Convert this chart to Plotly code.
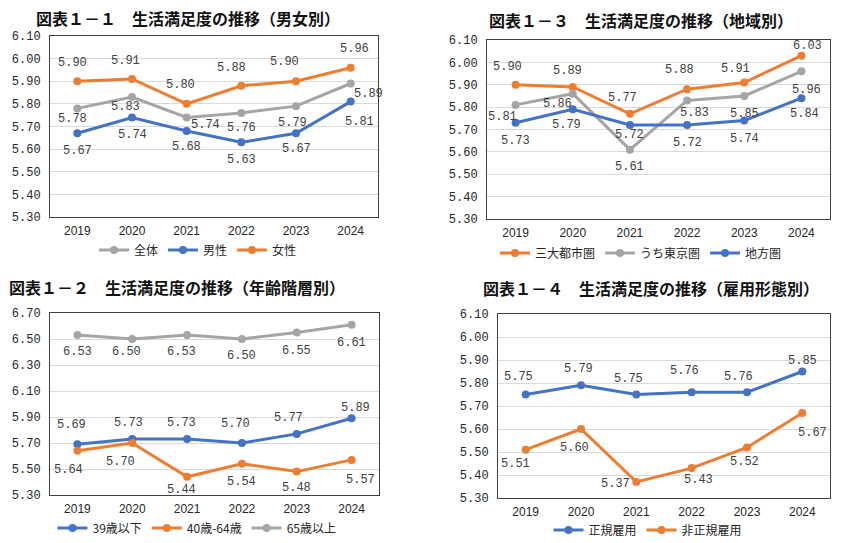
import plotly.graph_objects as go

years = ["2019", "2020", "2021", "2022", "2023", "2024"]

# Panel 1-1 (gender)
p1_names = ["全体", "男性", "女性"]
p1_all = [5.78, 5.83, 5.74, 5.76, 5.79, 5.89]
p1_male = [5.67, 5.74, 5.68, 5.63, 5.67, 5.81]
p1_female = [5.90, 5.91, 5.80, 5.88, 5.90, 5.96]

# Panel 1-3 (region)
p2_names = ["三大都市圏", "うち東京圏", "地方圏"]
p2_metro = [5.90, 5.89, 5.77, 5.88, 5.91, 6.03]
p2_tokyo = [5.81, 5.86, 5.61, 5.83, 5.85, 5.96]
p2_local = [5.73, 5.79, 5.72, 5.72, 5.74, 5.84]

# Panel 1-2 (age)
p3_names = ["39歳以下", "40歳-64歳", "65歳以上"]
p3_u39 = [5.69, 5.73, 5.73, 5.70, 5.77, 5.89]
p3_40_64 = [5.64, 5.70, 5.44, 5.54, 5.48, 5.57]
p3_65 = [6.53, 6.50, 6.53, 6.50, 6.55, 6.61]

# Panel 1-4 (employment)
p4_names = ["正規雇用", "非正規雇用"]
p4_regular = [5.75, 5.79, 5.75, 5.76, 5.76, 5.85]
p4_nonreg = [5.51, 5.60, 5.37, 5.43, 5.52, 5.67]

titles = [
    "図表１－１　生活満足度の推移（男女別）",
    "図表１－３　生活満足度の推移（地域別）",
    "図表１－２　生活満足度の推移（年齢階層別）",
    "図表１－４　生活満足度の推移（雇用形態別）",
]

ORANGE = "#ED7D31"
GRAY = "#A5A5A5"
BLUE = "#4472C4"

# label offsets (dx, dy) in pixels relative to each point (dy>0 = up)
OFF = {
    "p1_female": [(-5, 18), (-7, 18), (-6, 19), (-10, 18), (-12, 19), (4, 19)],
    "p1_all": [(-5, -11), (-7, -10), (19, -8), (0, -15), (-4, -17), (18, -10)],
    "p1_male": [(0, -18), (0, -18), (0, -16), (0, -18), (0, -16), (9, -20)],
    "p2_metro": [(-8, 18), (-5, 16), (-7, 16), (-8, 19), (-9, 14), (6, 10)],
    "p2_tokyo": [(-13, -12), (-15, -10), (0, -17), (7, -13), (0, -18), (5, -19)],
    "p2_local": [(0, -18), (-6, -16), (0, -10), (0, -18), (0, -18), (3, -16)],
    "p3_u39": [(-6, 19), (-4, 16), (-6, 16), (-6, 19), (-8, 16), (4, 10)],
    "p3_40_64": [(-9, -19), (-12, -19), (-6, -13), (0, -18), (0, -16), (9, -20)],
    "p3_65": [(0, -17), (-6, -13), (-6, -17), (0, -17), (0, -18), (0, -18)],
    "p4_regular": [(-7, 18), (-3, 16), (-8, 16), (-7, 21), (-9, 15), (0, 11)],
    "p4_nonreg": [(-10, -14), (-7, -19), (-21, -2), (7, -12), (-3, -15), (10, -20)],
}

W, H = 860, 543


def fx(px):
    return px / W


def fy(py):
    return 1 - py / H


panels = [
    dict(ax="", xd=(50, 378), yd=(36, 217), yr=(5.30, 6.10), dt=0.1,
         series=[(p1_names[0], p1_all, GRAY, "p1_all"),
                 (p1_names[1], p1_male, BLUE, "p1_male"),
                 (p1_names[2], p1_female, ORANGE, "p1_female")],
         leg=(198, 250), title=(188, 18)),
    dict(ax="2", xd=(487, 830), yd=(40, 219), yr=(5.30, 6.10), dt=0.1,
         series=[(p2_names[0], p2_metro, ORANGE, "p2_metro"),
                 (p2_names[1], p2_tokyo, GRAY, "p2_tokyo"),
                 (p2_names[2], p2_local, BLUE, "p2_local")],
         leg=(641, 253), title=(641, 20)),
    dict(ax="3", xd=(50, 379), yd=(313, 495), yr=(5.30, 6.70), dt=0.2,
         series=[(p3_names[0], p3_u39, BLUE, "p3_u39"),
                 (p3_names[1], p3_40_64, ORANGE, "p3_40_64"),
                 (p3_names[2], p3_65, GRAY, "p3_65")],
         leg=(197, 528), title=(177, 287)),
    dict(ax="4", xd=(498, 830), yd=(314, 498), yr=(5.30, 6.10), dt=0.1,
         series=[(p4_names[0], p4_regular, BLUE, "p4_regular"),
                 (p4_names[1], p4_nonreg, ORANGE, "p4_nonreg")],
         leg=(648, 530), title=(651, 288)),
]

fig = go.Figure()
annotations = []
layout = dict(
    template="none",
    width=W, height=H,
    margin=dict(l=0, r=0, t=0, b=0, pad=0, autoexpand=False),
    paper_bgcolor="white", plot_bgcolor="white",
    showlegend=True,
    hovermode=False,
)

MONO = "Liberation Mono, DejaVu Sans Mono, monospace"
LABEL_FONT = dict(family=MONO, size=12, color="#404040")
CJK = "Noto Sans CJK JP, Noto Sans, sans-serif"

for i, p in enumerate(panels):
    ax = p["ax"]
    xa = "xaxis" + ax
    ya = "yaxis" + ax
    xref = "x" + ax
    yref = "y" + ax
    legname = "legend" + ("" if i == 0 else str(i + 1))
    for name, vals, color, key in p["series"]:
        fig.add_trace(go.Scatter(
            x=years, y=vals, name=name, mode="lines+markers",
            line=dict(color=color, width=3),
            marker=dict(color=color, size=8),
            xaxis=xref, yaxis=yref, legend=legname,
            hoverinfo="skip",
        ))
        for k, (v, (dx, dy)) in enumerate(zip(vals, OFF[key])):
            annotations.append(dict(
                x=k, y=v, xref=xref, yref=yref, text=f"{v:.2f}",
                showarrow=False, xshift=dx, yshift=dy, font=LABEL_FONT,
            ))
    x0, x1 = p["xd"]
    y0, y1 = p["yd"]
    layout[xa] = dict(
        domain=[fx(x0), fx(x1)], anchor=yref, type="category", automargin=False,
        range=[-0.5, 5.5], showgrid=False, zeroline=False,
        showline=True, linecolor="#404040", linewidth=1, mirror=True,
        ticks="outside", ticklen=3, tickcolor="rgba(0,0,0,0)",
        tickfont=dict(family="Liberation Sans, Arial, sans-serif", size=12, color="#262626"),
    )
    layout[ya] = dict(
        domain=[fy(y1), fy(y0)], anchor=xref, automargin=False,
        range=list(p["yr"]), dtick=p["dt"], tick0=5.30, tickformat=".2f",
        showgrid=True, gridcolor="#D9D9D9", gridwidth=1, zeroline=False,
        showline=True, linecolor="#404040", linewidth=1, mirror=True,
        ticks="outside", ticklen=6, tickcolor="rgba(0,0,0,0)",
        tickfont=dict(family=MONO, size=12, color="#262626"),
    )
    lx, ly = p["leg"]
    layout[legname] = dict(
        orientation="h", x=fx(lx), y=fy(ly), xanchor="center", yanchor="middle",
        xref="paper", yref="paper",
        font=dict(family=CJK, size=12, color="#262626"),
        bgcolor="rgba(0,0,0,0)", itemwidth=30, tracegroupgap=0,
    )
    tx, ty = p["title"]
    annotations.append(dict(
        x=fx(tx), y=fy(ty), xref="paper", yref="paper", text=titles[i],
        showarrow=False, xanchor="center", yanchor="middle",
        font=dict(family=CJK, size=16, color="#111111", weight="bold"),
    ))

layout["annotations"] = annotations
fig.update_layout(**layout)
# remove the page's default body margin so the figure fills the window exactly
fig.write_html(
    "out.html",
    config={"displayModeBar": False, "staticPlot": True},
    post_script="document.body.style.margin='0';document.body.style.overflow='hidden';",
)
